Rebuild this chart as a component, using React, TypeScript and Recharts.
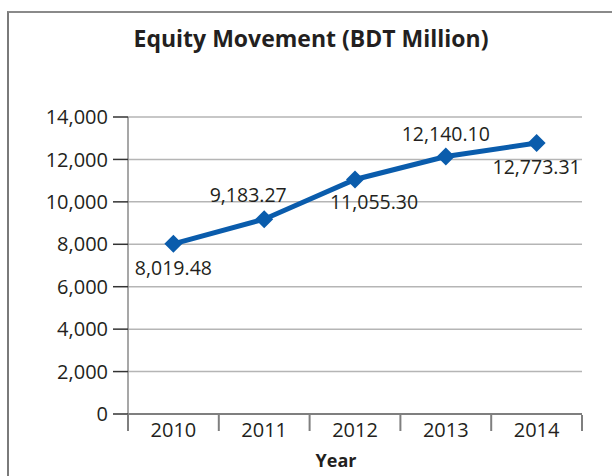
import { LineChart, Line, XAxis, YAxis, CartesianGrid, LabelList } from "recharts";

const years = ["2010", "2011", "2012", "2013", "2014"];
const equity = [8019.48, 9183.27, 11055.3, 12140.1, 12773.31];
const yTicks = [0, 2000, 4000, 6000, 8000, 10000, 12000, 14000];

// where each value label sits relative to its point (baseline offset)
const labelPlacement = [
  { dx: 0, dy: 31 },
  { dx: -16, dy: -17 },
  { dx: 19, dy: 30 },
  { dx: 0, dy: -15 },
  { dx: 0, dy: 31 },
];

const BLUE = "#0a5cac";
const TEXT = "#231f20";
const FONT = "'Open Sans', sans-serif";

const data = years.map((year, i) => ({ idx: i, year, equity: equity[i] }));
const catTicks = years.map((_, i) => i);
const edgeTicks = [...years.map((_, i) => i - 0.5), years.length - 0.5];

const fmt = (v: number) => v.toLocaleString("en-US", { minimumFractionDigits: 2, maximumFractionDigits: 2 });

function Diamond(props: any) {
  const { cx, cy, index } = props;
  if (cx == null || cy == null) return null;
  const r = 9;
  return (
    <path
      key={`d-${index}`}
      d={`M${cx},${cy - r} L${cx + r},${cy} L${cx},${cy + r} L${cx - r},${cy} Z`}
      fill={BLUE}
    />
  );
}

function ValueLabel(props: any) {
  const { x, y, value, index } = props;
  const p = labelPlacement[index] ?? { dx: 0, dy: -15 };
  return (
    <text x={x + p.dx} y={y + p.dy} textAnchor="middle" fontSize={19.5} fontFamily={FONT} fill={TEXT}>
      {fmt(Number(value))}
    </text>
  );
}

export default function App() {
  return (
    <div style={{ position: "absolute", left: 0, top: 0, width: 612, height: 476, overflow: "hidden", background: "#fff" }}>
      <div
        style={{
          position: "absolute",
          left: 7,
          top: 11,
          width: 640,
          height: 500,
          borderLeft: "2px solid #7a7a7a",
          borderTop: "2px solid #8a8a8a",
        }}
      />
      <div
        style={{
          position: "absolute",
          left: 0,
          top: 27,
          width: 622,
          textAlign: "center",
          fontFamily: FONT,
          fontWeight: 700,
          fontSize: 23,
          lineHeight: "23px",
          color: TEXT,
        }}
      >
        Equity Movement (BDT Million)
      </div>
      <LineChart
        width={612}
        height={476}
        data={data}
        margin={{ top: 117, right: 30, left: 8, bottom: 60 }}
        style={{ position: "absolute", left: 0, top: 0 }}
      >
        <CartesianGrid xAxisId="cat" vertical={false} stroke="#b5b5b5" strokeWidth={1.5} />
        <XAxis
          xAxisId="cat"
          type="number"
          dataKey="idx"
          domain={[-0.5, years.length - 0.5]}
          ticks={catTicks}
          interval={0}
          tickFormatter={(i: number) => years[i]}
          tickLine={false}
          tickSize={0}
          tickMargin={9}
          axisLine={{ stroke: "#7f7f7f", strokeWidth: 2 }}
          tick={{ fill: TEXT, fontSize: 20, fontFamily: FONT }}
          height={1}
        />
        <XAxis
          xAxisId="edges"
          type="number"
          dataKey="idx"
          domain={[-0.5, years.length - 0.5]}
          ticks={edgeTicks}
          interval={0}
          tickFormatter={() => ""}
          tickSize={16}
          tickLine={{ stroke: "#7f7f7f", strokeWidth: 2 }}
          axisLine={false}
          height={1}
        />
        <YAxis
          domain={[0, 14000]}
          ticks={yTicks}
          interval={0}
          tickFormatter={(v: number) => v.toLocaleString("en-US")}
          width={120}
          tickSize={15}
          tickMargin={5}
          tickLine={{ stroke: "#333", strokeWidth: 1.5 }}
          axisLine={{ stroke: "#8a8a8a", strokeWidth: 1.5 }}
          tick={{ fill: TEXT, fontSize: 20, fontFamily: FONT }}
        />
        <Line
          xAxisId="cat"
          type="linear"
          dataKey="equity"
          stroke={BLUE}
          strokeWidth={5}
          dot={Diamond}
          activeDot={false}
          isAnimationActive={false}
        >
          <LabelList dataKey="equity" content={ValueLabel} />
        </Line>
      </LineChart>
      <div
        style={{
          position: "absolute",
          left: 236,
          top: 451,
          width: 200,
          textAlign: "center",
          fontFamily: FONT,
          fontWeight: 700,
          fontSize: 18,
          lineHeight: "18px",
          color: TEXT,
        }}
      >
        Year
      </div>
    </div>
  );
}
